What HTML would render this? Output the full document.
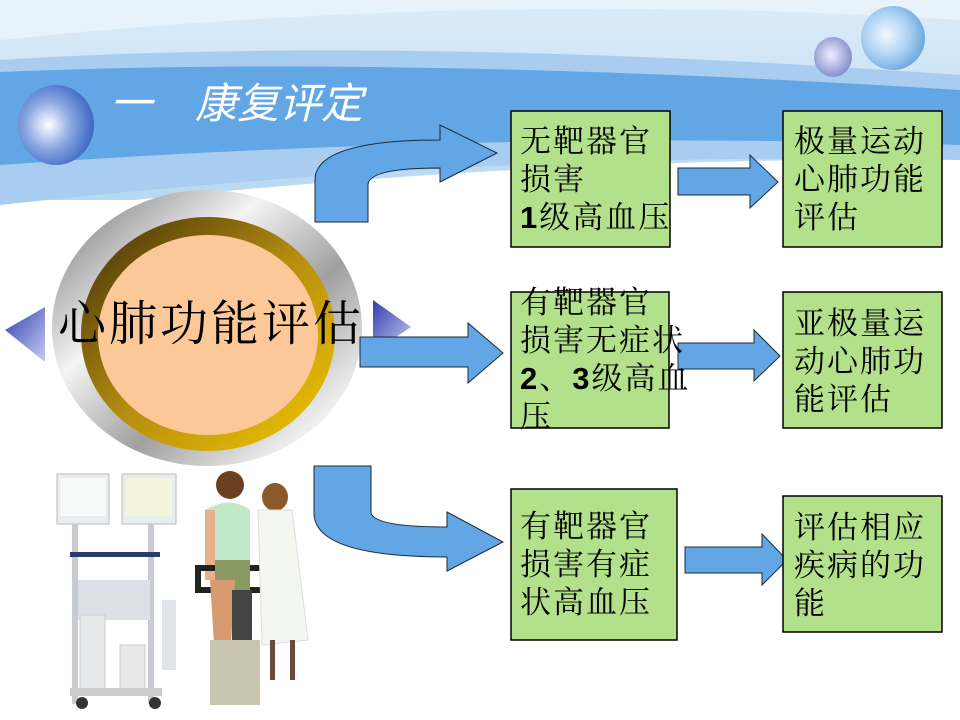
<!DOCTYPE html>
<html><head><meta charset="utf-8"><style>
html,body{margin:0;padding:0;width:960px;height:720px;overflow:hidden;background:#fff}
svg{display:block}
.t{font-family:"Liberation Serif","Noto Serif CJK SC",serif;font-size:31px;letter-spacing:2px;fill:#000}
</style></head><body>
<svg width="960" height="720" viewBox="0 0 960 720" xmlns="http://www.w3.org/2000/svg">
<defs>
<linearGradient id="top" x1="0" y1="0" x2="0" y2="1">
<stop offset="0" stop-color="#dcecf8"/><stop offset="1" stop-color="#b8d8f2"/></linearGradient>
<radialGradient id="sph" cx="0.4" cy="0.5" r="0.6">
<stop offset="0" stop-color="#fff"/><stop offset="0.5" stop-color="#8aa8e0"/><stop offset="1" stop-color="#3c66c4"/></radialGradient>
<radialGradient id="sph2" cx="0.4" cy="0.45" r="0.6">
<stop offset="0" stop-color="#f4f8ff"/><stop offset="0.6" stop-color="#a8d0f2"/><stop offset="1" stop-color="#6fa8e0"/></radialGradient>
<radialGradient id="sph3" cx="0.45" cy="0.45" r="0.6">
<stop offset="0" stop-color="#eef"/><stop offset="1" stop-color="#8088c8"/></radialGradient>
<linearGradient id="gray" x1="0" y1="0" x2="1" y2="1">
<stop offset="0" stop-color="#6e6e6e"/><stop offset="0.35" stop-color="#f4f4f4"/><stop offset="0.6" stop-color="#a0a0a0"/><stop offset="0.85" stop-color="#f0f0f0"/><stop offset="1" stop-color="#888"/></linearGradient>
<linearGradient id="gold" x1="0" y1="0" x2="1" y2="1">
<stop offset="0" stop-color="#3e2c08"/><stop offset="0.5" stop-color="#b48c10"/><stop offset="1" stop-color="#f4c800"/></linearGradient>
<linearGradient id="tri" x1="0" y1="0" x2="1" y2="1">
<stop offset="0" stop-color="#3040b0"/><stop offset="1" stop-color="#c8ccf0"/></linearGradient>
</defs>
<rect x="0" y="0" width="960" height="200" fill="url(#top)"/>
<path d="M0 40 Q480 -10 960 20 L960 0 L0 0Z" fill="#eef5fb" opacity="0.7"/>
<path d="M0 60 Q400 35 960 75 L960 160 Q500 150 0 205 Z" fill="#a9cdf0"/>
<path d="M0 72 Q400 55 960 90 L960 145 Q500 130 0 165 Z" fill="#62a6e6"/>
<path d="M0 215 Q500 155 960 160 L960 720 L0 720Z" fill="#fff"/>
<ellipse cx="56" cy="125" rx="38" ry="40" fill="url(#sph)"/>
<ellipse cx="893" cy="38" rx="32" ry="32" fill="url(#sph2)"/>
<ellipse cx="833" cy="57" rx="19" ry="20" fill="url(#sph3)"/>
<g font-family="Liberation Sans,'Noto Sans CJK SC',sans-serif" font-size="42" fill="#fff" font-style="italic">
<text x="110" y="118">一</text><text x="195" y="118">康复评定</text></g>
<polygon points="5,330 45,307 45,362" fill="url(#tri)"/>
<polygon points="373,300 411,327 373,352" fill="url(#tri)"/>
<ellipse cx="207" cy="328" rx="155" ry="138" fill="url(#gray)"/>
<ellipse cx="208" cy="334" rx="127" ry="117" fill="url(#gold)"/>
<ellipse cx="208" cy="335" rx="110" ry="100" fill="#fdc898"/>
<text x="58" y="340" font-family="Liberation Serif,'Noto Serif CJK SC',serif" font-size="48" letter-spacing="3" fill="#000">心肺功能评估</text>
<path d="M315 222 L315 180 Q315 140 440 140 L440 125 L497 153 L440 182 L440 168 Q368 168 368 185 L368 222Z" fill="#62a6e6" stroke="#1a2a3a" stroke-width="1"/>
<path d="M360 337 L468 337 L468 323 L503 353 L468 383 L468 367 L360 367Z" fill="#62a6e6" stroke="#1a2a3a" stroke-width="1"/>
<path d="M314 466 L371 466 L371 513 Q375 527 447 527 L447 512 L503 542 L447 571 L447 557 Q314 557 314 513Z" fill="#62a6e6" stroke="#1a2a3a" stroke-width="1"/>
<path d="M678 168 L750 168 L750 155 L778 182 L750 208 L750 195 L678 195Z" fill="#62a6e6" stroke="#1a2a3a" stroke-width="1"/>
<path d="M678 343 L754 343 L754 330 L780 356 L754 381 L754 369 L678 369Z" fill="#62a6e6" stroke="#1a2a3a" stroke-width="1"/>
<path d="M685 547 L762 547 L762 534 L787 560 L762 585 L762 573 L685 573Z" fill="#62a6e6" stroke="#1a2a3a" stroke-width="1"/>
<g fill="#b3e08a" stroke="#000" stroke-width="1.5">
<rect x="511" y="111" width="159" height="136"/>
<rect x="783" y="111" width="159" height="136"/>
<rect x="511" y="292" width="158" height="136"/>
<rect x="783" y="292" width="159" height="136"/>
<rect x="511" y="489" width="166" height="151"/>
<rect x="783" y="496" width="159" height="136"/>
</g>
<g class="t">
<text x="520" y="152">无靶器官</text><text x="520" y="190">损害</text><text x="520" y="228"><tspan font-family="Liberation Sans" font-weight="bold">1</tspan>级高血压</text>
<text x="794" y="152">极量运动</text><text x="794" y="190">心肺功能</text><text x="794" y="228">评估</text>
<text x="520" y="313">有靶器官</text><text x="520" y="351">损害无症状</text><text x="520" y="389"><tspan font-family="Liberation Sans" font-weight="bold">2</tspan>、<tspan font-family="Liberation Sans" font-weight="bold">3</tspan>级高血</text><text x="520" y="427">压</text>
<text x="794" y="334">亚极量运</text><text x="794" y="372">动心肺功</text><text x="794" y="410">能评估</text>
<text x="520" y="537">有靶器官</text><text x="520" y="575">损害有症</text><text x="520" y="613">状高血压</text>
<text x="794" y="538">评估相应</text><text x="794" y="576">疾病的功</text><text x="794" y="614">能</text>
</g>
<g>
<rect x="57" y="474" width="52" height="50" fill="#e8eef0" stroke="#bbb"/>
<rect x="60" y="478" width="46" height="38" fill="#f8fafa"/>
<rect x="122" y="474" width="54" height="50" fill="#e8eef0" stroke="#bbb"/>
<rect x="126" y="478" width="46" height="38" fill="#f2f4dc"/>
<rect x="72" y="524" width="6" height="180" fill="#c8ccd0"/>
<rect x="148" y="524" width="6" height="180" fill="#c8ccd0"/>
<rect x="70" y="552" width="90" height="5" fill="#2a3a6a"/>
<rect x="78" y="580" width="72" height="40" fill="#dde0e6"/>
<rect x="80" y="615" width="25" height="75" fill="#e6e8ea" stroke="#ccc"/>
<rect x="120" y="645" width="25" height="45" fill="#e8e8e8" stroke="#ccc"/>
<rect x="162" y="600" width="14" height="70" fill="#e0e4e8"/>
<rect x="70" y="688" width="92" height="8" fill="#ccc"/>
<circle cx="82" cy="703" r="6" fill="#333"/><circle cx="155" cy="703" r="6" fill="#333"/>
<ellipse cx="230" cy="485" rx="14" ry="14" fill="#6a4020"/>
<path d="M205 510 Q230 495 250 510 L250 560 L210 560Z" fill="#bfe8c8"/>
<rect x="205" y="510" width="10" height="70" fill="#e8b08a"/>
<path d="M198 568 L280 568 L280 590 L198 590Z" fill="none" stroke="#222" stroke-width="6"/>
<rect x="215" y="560" width="35" height="30" fill="#8a9a60"/>
<path d="M210 580 L235 580 L230 660 L215 660Z" fill="#d89a70"/>
<rect x="232" y="590" width="20" height="110" fill="#444"/>
<rect x="210" y="640" width="50" height="65" fill="#c8c4b0"/>
<ellipse cx="275" cy="497" rx="13" ry="14" fill="#8a5a2a"/>
<path d="M258 510 L292 510 L308 640 L262 645Z" fill="#f4f6f2" stroke="#ddd"/>
<rect x="270" y="640" width="5" height="40" fill="#6a4a3a"/><rect x="290" y="640" width="5" height="40" fill="#6a4a3a"/>
</g>
</svg>
</body></html>
